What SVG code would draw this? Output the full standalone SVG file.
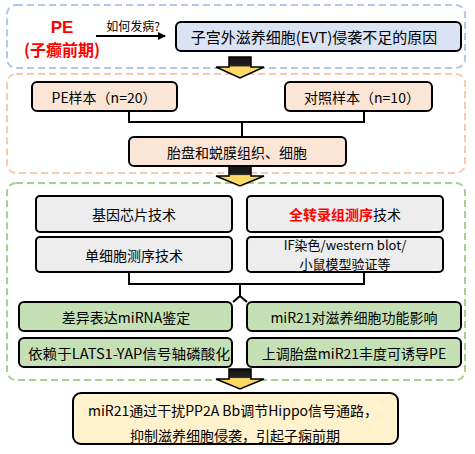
<svg xmlns="http://www.w3.org/2000/svg" width="475" height="454" viewBox="0 0 475 454">
<style>
.t{font-family:"Noto Sans CJK SC","Microsoft YaHei",sans-serif;font-size:14px;fill:#000;text-anchor:middle;dominant-baseline:central}
.box{stroke:#000;stroke-width:2}
.dash{fill:none;stroke-width:2;stroke-dasharray:7 4}
.ln{fill:none;stroke:#000;stroke-width:2}
.yel{fill:url(#yg);stroke:#000;stroke-width:1.5}
</style>
<defs>
<linearGradient id="yg" x1="0" y1="0" x2="0" y2="1">
<stop offset="0" stop-color="#111"/>
<stop offset="0.42" stop-color="#222"/>
<stop offset="0.48" stop-color="#ffd966"/>
<stop offset="1" stop-color="#ffd966"/>
</linearGradient>
<marker id="ah" markerWidth="8" markerHeight="8" refX="7" refY="4" orient="auto" markerUnits="userSpaceOnUse">
<path d="M0,0 L8,4 L0,8 Z" fill="#000"/>
</marker>
</defs>

<!-- section frames -->
<rect x="7" y="5" width="458" height="63" rx="9" class="dash" stroke="#b4c7e7"/>
<rect x="7" y="74" width="458" height="99" rx="9" class="dash" stroke="#f8cbad"/>
<rect x="7" y="183" width="458" height="197" rx="9" class="dash" stroke="#a9d18e"/>

<g id="connectors">
<line x1="96" y1="36" x2="165" y2="36" class="ln" marker-end="url(#ah)"/>
<path d="M129,111 V122 H364 V111 M242,122 V137" class="ln"/>
<path d="M129,272 V284 H364 V272 M240,284 V297 M233,302 L240,296 L247,302" class="ln"/>
</g>

<g id="arrow1"><polygon class="yel" points="229,57 251,57 251,67 264,67 240,78 216,67 229,67"/></g>
<g id="arrow2"><polygon class="yel" points="229,166 251,166 251,176 264,176 240,186 216,176 229,176"/></g>
<g id="arrow3"><polygon class="yel" points="229,369 251,369 251,379 264,379 240,389 216,379 229,379"/></g>

<g id="pe">
<text x="62" y="27" class="t" style="font-family:'Liberation Sans',Arial,sans-serif;font-size:17px;font-weight:bold;fill:#ff0000">PE</text>
<text x="62" y="48.5" class="t" style="font-size:16px;font-weight:bold;fill:#ff0000">(子癫前期)</text>
</g>
<g id="q"><text x="133" y="25" class="t" style="font-size:12px">如何发病?</text></g>

<g id="evt">
<rect x="176" y="22" width="285" height="29" rx="5" class="box" fill="#dae3f3"/>
<text x="314" y="36.5" class="t" style="font-size:15px">子宫外滋养细胞(EVT)侵袭不足的原因</text>
</g>

<g id="pe-sample">
<rect x="32" y="82" width="145" height="29" rx="5" class="box" fill="#fbe5d6"/>
<text x="104" y="97" class="t">PE样本（n=20）</text>
</g>
<g id="ctrl-sample">
<rect x="285" y="82" width="147" height="29" rx="5" class="box" fill="#fbe5d6"/>
<text x="362" y="97" class="t">对照样本（n=10）</text>
</g>
<g id="tissue">
<rect x="129" y="137" width="217" height="29" rx="5" class="box" fill="#fbe5d6"/>
<text x="237" y="152" class="t">胎盘和蜕膜组织、细胞</text>
</g>

<g id="chip">
<rect x="36" y="196" width="196" height="36" rx="4" class="box" fill="#ededed"/>
<text x="134" y="214" class="t">基因芯片技术</text>
</g>
<g id="wts">
<rect x="247" y="196" width="196" height="36" rx="4" class="box" fill="#ededed"/>
<text x="345" y="214" class="t"><tspan fill="#ff0000" font-weight="bold">全转录组测序</tspan>技术</text>
</g>
<g id="scseq">
<rect x="36" y="237" width="196" height="35" rx="4" class="box" fill="#ededed"/>
<text x="134" y="254.5" class="t">单细胞测序技术</text>
</g>
<g id="valid">
<rect x="247" y="237" width="196" height="35" rx="4" class="box" fill="#ededed"/>
<text x="345" y="244.5" class="t" style="font-size:13px">IF染色/western blot/</text>
<text x="345" y="263.5" class="t" style="font-size:13px">小鼠模型验证等</text>
</g>

<g id="mirna">
<rect x="19" y="302" width="213" height="29" rx="5" class="box" fill="#c5e0b4"/>
<text x="126" y="316.5" class="t">差异表达miRNA鉴定</text>
</g>
<g id="func">
<rect x="247" y="302" width="214" height="29" rx="5" class="box" fill="#c5e0b4"/>
<text x="354" y="316.5" class="t">miR21对滋养细胞功能影响</text>
</g>
<g id="lats">
<rect x="19" y="338" width="213" height="29" rx="5" class="box" fill="#c5e0b4"/>
<text x="129" y="352.5" class="t" textLength="202" lengthAdjust="spacingAndGlyphs">依赖于LATS1-YAP信号轴磷酸化</text>
</g>
<g id="up">
<rect x="247" y="338" width="214" height="29" rx="5" class="box" fill="#c5e0b4"/>
<text x="354" y="352.5" class="t">上调胎盘miR21丰度可诱导PE</text>
</g>

<g id="concl">
<rect x="73" y="393" width="325" height="51" rx="8" class="box" fill="#fff2cc"/>
<text x="233" y="410" class="t">miR21通过干扰PP2A Bb调节Hippo信号通路，</text>
<text x="235" y="435" class="t">抑制滋养细胞侵袭，引起子痫前期</text>
</g>
</svg>
